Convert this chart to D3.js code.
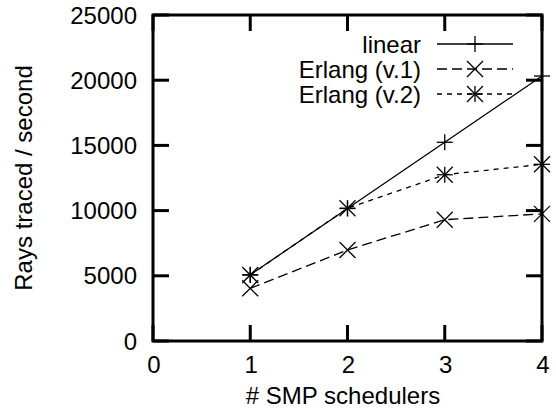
<!DOCTYPE html>
<html><head><meta charset="utf-8">
<script src="https://cdn.jsdelivr.net/npm/d3@7"></script>
<style>body{margin:0;background:#fff}svg{display:block}text{font-family:"Liberation Sans",Arial,Helvetica,sans-serif;fill:#000}</style>
</head><body>
<script>
const schedulers = [1, 2, 3, 4];
const linear = [5080, 10160, 15240, 20320];
const erlangV1 = [4040, 6980, 9300, 9750];
const erlangV2 = [5060, 10180, 12750, 13550];
const xTicks = [0, 1, 2, 3, 4];
const yTicks = [0, 5000, 10000, 15000, 20000, 25000];
const seriesNames = ["linear", "Erlang (v.1)", "Erlang (v.2)"];

const W = 556, H = 415;
const m = {l: 153, r: 542, t: 15, b: 341};
const svg = d3.select("body").append("svg").attr("width", W).attr("height", H);
const x = d3.scaleLinear().domain([0, 4]).range([m.l, m.r]);
const y = d3.scaleLinear().domain([0, 25000]).range([m.b, m.t]);
const FS = 24, TL = 16;

// ticks (inward, mirrored)
const tk = svg.append("g").attr("stroke", "#000").attr("stroke-width", 3);
xTicks.forEach(v => {
  tk.append("line").attr("x1", x(v)).attr("x2", x(v)).attr("y1", m.b).attr("y2", m.b - TL);
  tk.append("line").attr("x1", x(v)).attr("x2", x(v)).attr("y1", m.t).attr("y2", m.t + TL);
});
yTicks.forEach(v => {
  tk.append("line").attr("x1", m.l).attr("x2", m.l + TL).attr("y1", y(v)).attr("y2", y(v));
  tk.append("line").attr("x1", m.r).attr("x2", m.r - TL).attr("y1", y(v)).attr("y2", y(v));
});
svg.append("rect").attr("x", m.l).attr("y", m.t).attr("width", m.r - m.l).attr("height", m.b - m.t)
  .attr("fill", "none").attr("stroke", "#000").attr("stroke-width", 3);

// tick labels
xTicks.forEach(v => svg.append("text").attr("x", x(v) + 1).attr("y", 373)
  .attr("text-anchor", "middle").attr("font-size", FS).text(v));
yTicks.forEach(v => svg.append("text").attr("x", 137).attr("y", y(v)).attr("dy", "0.36em")
  .attr("text-anchor", "end").attr("font-size", FS).text(v));

// axis titles
svg.append("text").attr("x", 343).attr("y", 404).attr("text-anchor", "middle").attr("font-size", FS).text("# SMP schedulers");
svg.append("text").attr("transform", `translate(32,${(m.t + m.b) / 2}) rotate(-90)`)
  .attr("text-anchor", "middle").attr("font-size", FS).text("Rays traced / second");

const S = 8;
function marker(g, cx, cy, type) {
  const p = [];
  if (type === "plus" || type === "star") { p.push([cx - S, cy, cx + S, cy], [cx, cy - S, cx, cy + S]); }
  if (type === "cross" || type === "star") { p.push([cx - S, cy - S, cx + S, cy + S], [cx - S, cy + S, cx + S, cy - S]); }
  p.forEach(a => g.append("line").attr("x1", a[0]).attr("y1", a[1]).attr("x2", a[2]).attr("y2", a[3])
    .attr("stroke", "#000").attr("stroke-width", 1.3));
}

const series = [
  {name: seriesNames[0], vals: linear, dash: null, mk: "plus"},
  {name: seriesNames[1], vals: erlangV1, dash: "10,5", mk: "cross"},
  {name: seriesNames[2], vals: erlangV2, dash: "5,5", mk: "star"}
];
const line = d3.line().x((d, i) => x(schedulers[i])).y(d => y(d));
series.forEach((s, k) => {
  const g = svg.append("g");
  g.append("path").attr("d", line(s.vals)).attr("fill", "none").attr("stroke", "#000")
    .attr("stroke-width", 1.3).attr("stroke-dasharray", s.dash);
  s.vals.forEach((v, i) => marker(g, x(schedulers[i]), y(v), s.mk));
  // legend
  const ly = 44 + k * 25;
  g.append("text").attr("x", 421).attr("y", ly).attr("dy", "0.36em").attr("text-anchor", "end")
    .attr("font-size", FS).text(s.name);
  g.append("line").attr("x1", 437).attr("x2", 513).attr("y1", ly).attr("y2", ly)
    .attr("stroke", "#000").attr("stroke-width", 1.3).attr("stroke-dasharray", s.dash);
  marker(g, 475, ly, s.mk);
});
</script>
</body></html>
